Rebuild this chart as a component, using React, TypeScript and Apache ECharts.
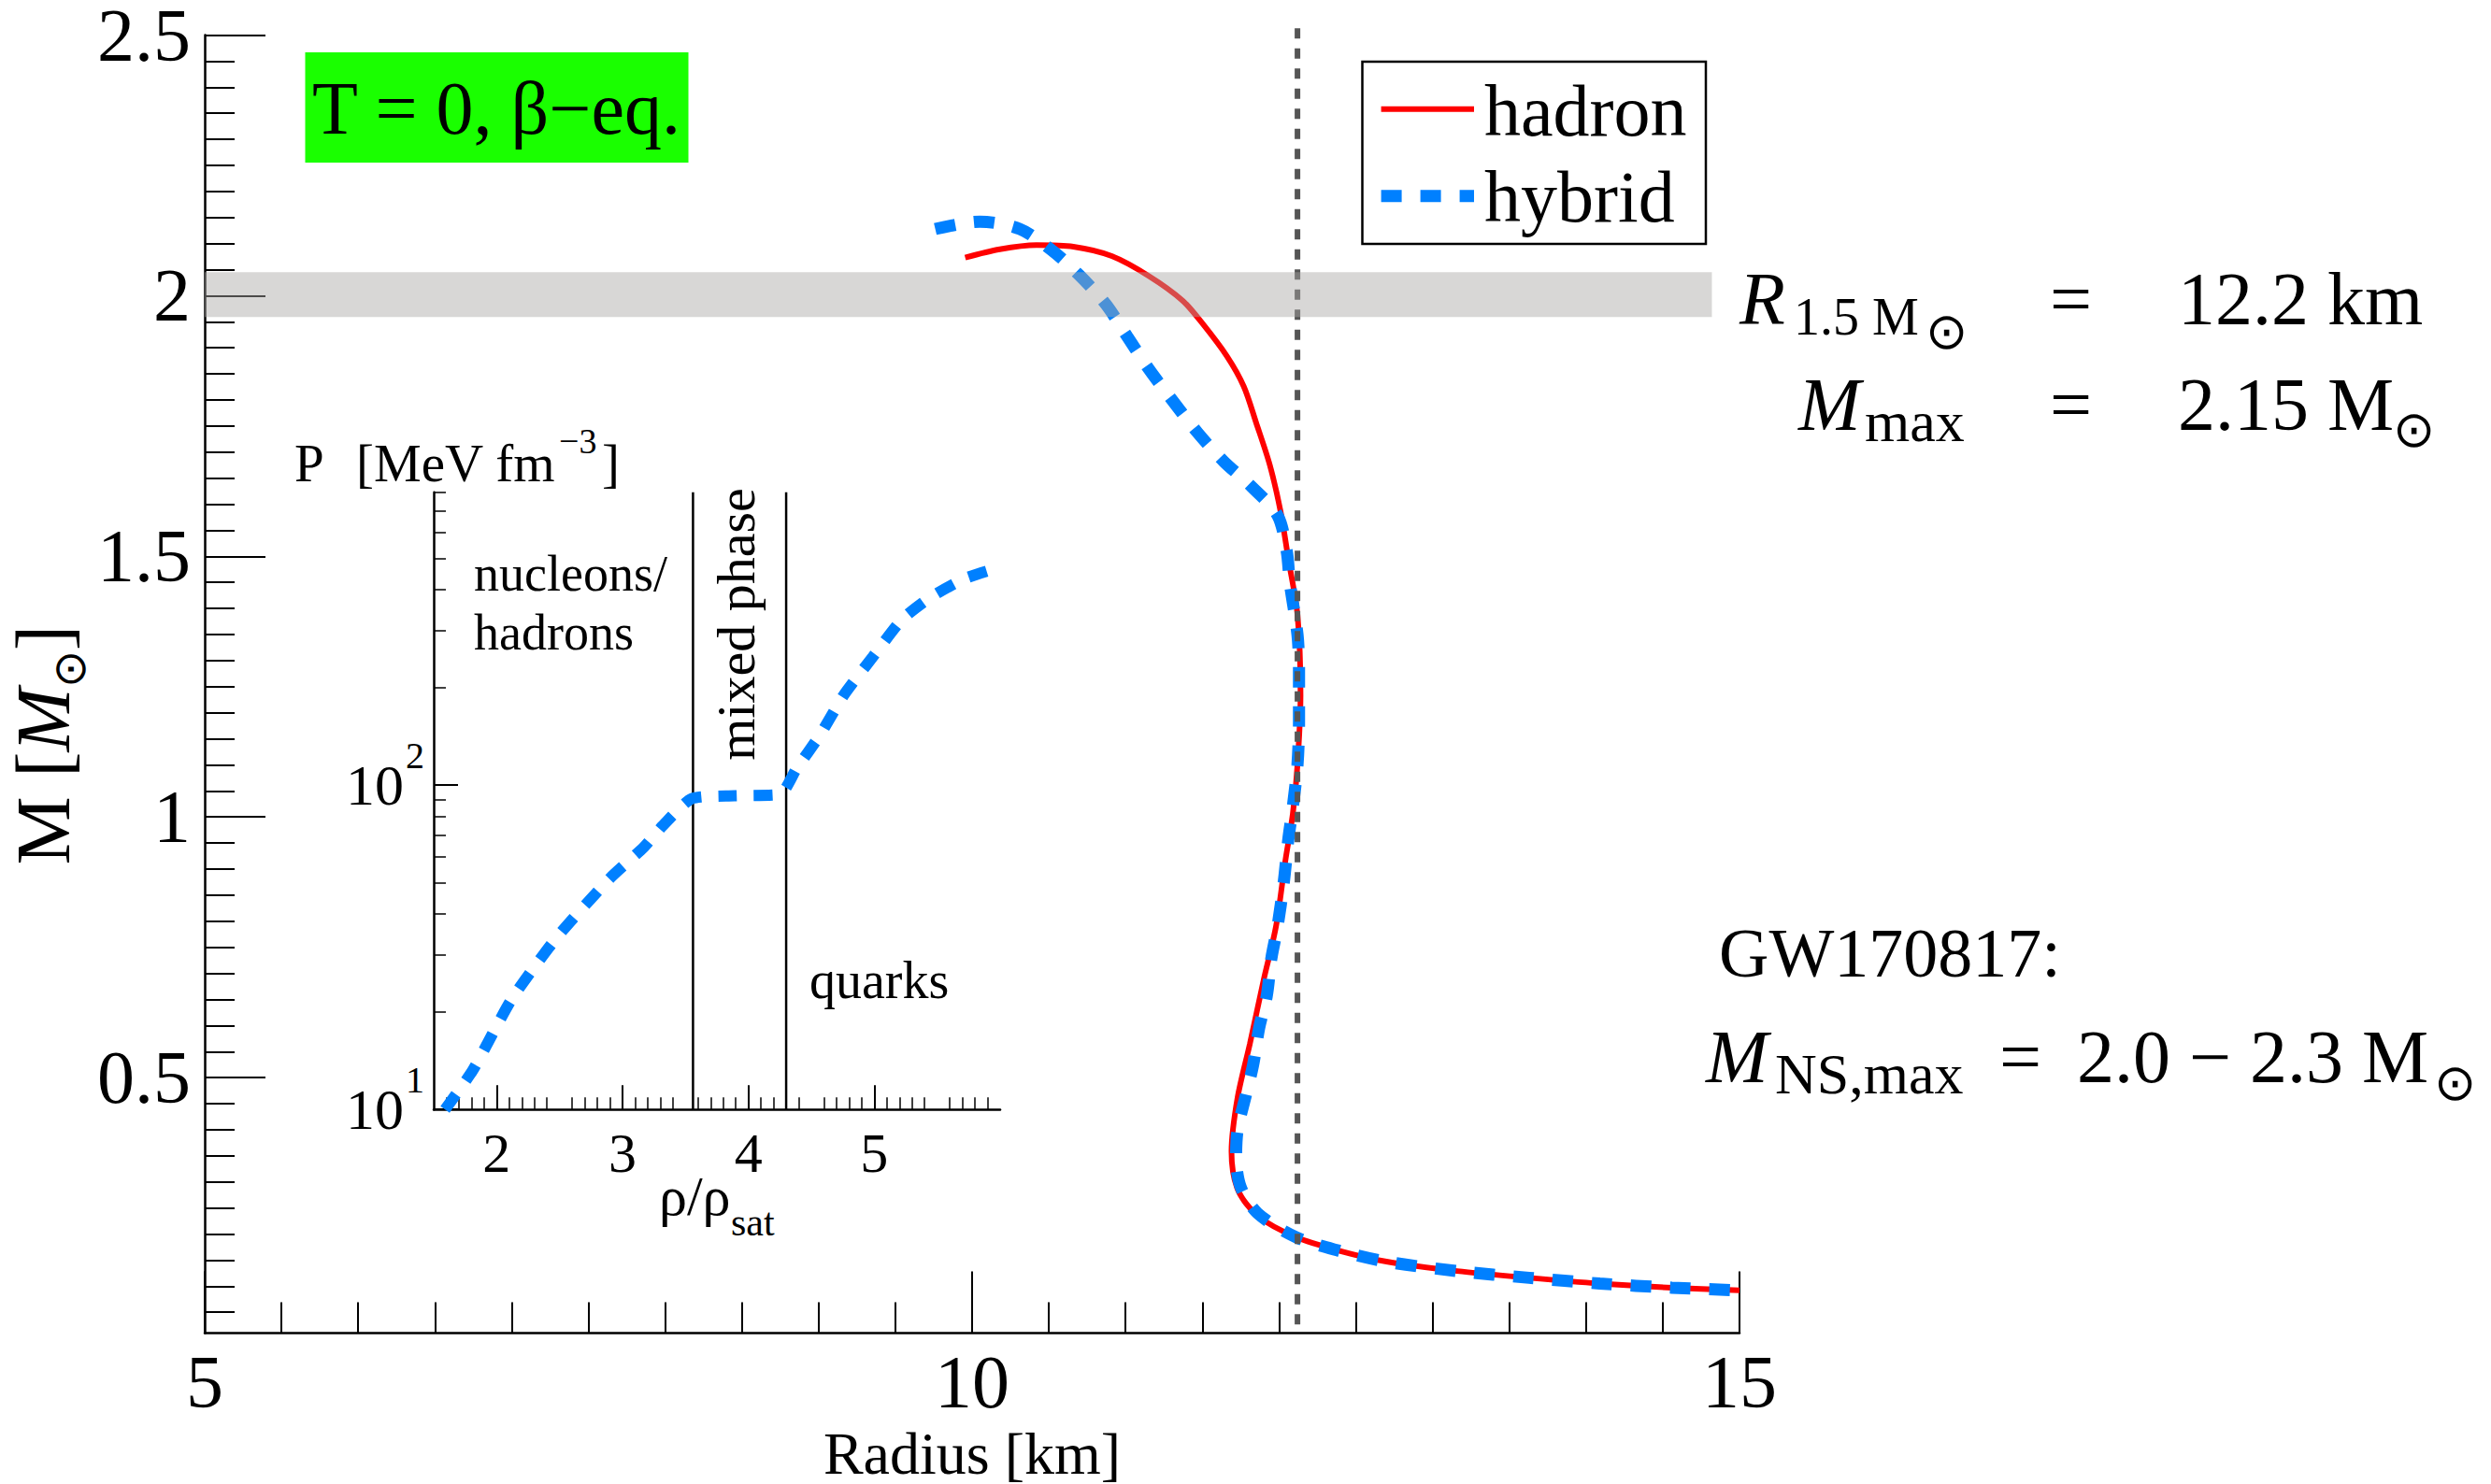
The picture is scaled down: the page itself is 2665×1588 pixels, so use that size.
import React, { useEffect, useRef } from "react";
import * as echarts from "echarts";

const FONT = "Liberation Serif";

// Mass–radius curves (R in km, M in solar masses)
const hadronR = [9.955, 10.18, 10.42, 10.66, 10.91, 11.15, 11.37, 11.5, 11.66, 11.77, 11.85, 11.94, 12.01, 12.06, 12.12, 12.14, 12.12, 12.09, 12.04, 11.98, 11.9, 11.81, 11.73, 11.69, 11.73, 11.86, 12.11, 12.39, 12.7, 13.16, 13.63, 14.09, 14.56, 15.0];
const hadronM = [2.073, 2.089, 2.097, 2.094, 2.076, 2.038, 1.991, 1.947, 1.884, 1.826, 1.757, 1.675, 1.586, 1.496, 1.388, 1.234, 1.1, 1.007, 0.914, 0.79, 0.688, 0.565, 0.462, 0.358, 0.286, 0.235, 0.194, 0.168, 0.147, 0.129, 0.116, 0.105, 0.097, 0.092];

const hybridR = [9.76, 10.05, 10.31, 10.52, 10.7, 10.87, 11.01, 11.15, 11.29, 11.47, 11.64, 11.82, 11.99, 12.05, 12.07, 12.12, 12.13, 12.13, 12.12, 12.09, 12.06, 12.03, 11.99, 11.95, 11.92, 11.87, 11.83, 11.78, 11.73, 11.72, 11.75, 11.86, 12.11, 12.39, 12.7, 13.16, 13.63, 14.09, 14.56, 15.0];
const hybridM = [2.128, 2.142, 2.128, 2.087, 2.039, 1.984, 1.922, 1.86, 1.805, 1.737, 1.682, 1.634, 1.579, 1.51, 1.45, 1.35, 1.285, 1.183, 1.1, 1.02, 0.956, 0.873, 0.79, 0.729, 0.657, 0.595, 0.523, 0.462, 0.4, 0.348, 0.29, 0.24, 0.194, 0.168, 0.147, 0.129, 0.116, 0.105, 0.097, 0.092];

// Inset: pressure vs density (hybrid EoS)
const insetRho = [1.59, 1.81, 2.12, 2.48, 2.9, 3.17, 3.32, 3.55, 3.89, 4.25, 4.38, 4.57, 4.76, 4.99, 5.22, 5.44, 5.71, 5.93];
const insetP = [10, 13.2, 21.9, 34, 51.6, 64.4, 75, 90.8, 92.7, 93.6, 112, 143, 190, 249, 324, 378, 432, 461];
const phaseBounds = [3.56, 4.3];

// Reference lines / bands
const radius15 = 12.12;
const vlineTop = 2.513;
const bandM = [1.959, 2.045];
const bandR = [5, 14.82];

// Axes ticks
const mainX = { min: 5, max: 15, step: 5 };
const mainY = { min: 0.01, max: 2.5 };
const mainYLabels = [0.5, 1, 1.5, 2, 2.5];
const mainYMinorStep = 0.05;
const insetX = { min: 1.5, max: 6 };
const insetXLabels = [2, 3, 4, 5];
const insetY = { min: 10, max: 800 };
const insetYMajor = [10, 100];
const insetYExp = ["1", "2"];
const insetYMinor = [20, 30, 40, 50, 60, 70, 80, 90, 200, 300, 400, 500, 600, 700, 800];

const RED = "#ff0000";
const BLUE = "#0080ff";

function zip(a: number[], b: number[]) {
  return a.map((v, i) => [v, b[i]]);
}

function T(x: number, base: number, text: string, fs: number, extra: any = {}) {
  return {
    type: "text",
    x,
    y: base - 0.34 * fs,
    style: {
      text,
      fontSize: fs,
      fontFamily: FONT,
      fill: "#000",
      align: "left",
      verticalAlign: "middle",
      lineHeight: fs,
      ...extra,
    },
  };
}

export default function App() {
  const ref = useRef<HTMLDivElement>(null);
  useEffect(() => {
    if (!ref.current) return;
    const chart = echarts.init(ref.current, null, { renderer: "svg" });

    const minorY: number[] = [];
    for (let k = 1; k * mainYMinorStep < mainY.max - 1e-9; k++) {
      const v = +(k * mainYMinorStep).toFixed(2);
      if (!mainYLabels.includes(v)) minorY.push(v);
    }

    const axisLineBlack = { show: true, lineStyle: { color: "#000", width: 2.5 } };
    const tickStyle = { color: "#000", width: 2 };

    const option: any = {
      animation: false,
      backgroundColor: "#fff",
      grid: [
        { left: 219, right: 804, top: 37.5, bottom: 161.5, outerBoundsMode: "none", containLabel: false },
        { left: 464, right: 1595, top: 526.7, bottom: 400.8, outerBoundsMode: "none", containLabel: false },
      ],
      xAxis: [
        {
          gridIndex: 0,
          type: "value",
          min: mainX.min,
          max: mainX.max,
          interval: mainX.step,
          axisLine: axisLineBlack,
          axisTick: { show: true, inside: true, length: 66, lineStyle: tickStyle },
          minorTick: { show: true, splitNumber: 10, length: 33, lineStyle: tickStyle },
          axisLabel: { fontSize: 80, lineHeight: 64, fontFamily: FONT, color: "#000", margin: 20 },
          splitLine: { show: false },
          minorSplitLine: { show: false },
          name: "Radius [km]",
          nameLocation: "middle",
          nameGap: 74,
          nameTextStyle: { fontSize: 64, lineHeight: 60, fontFamily: FONT, color: "#000" },
        },
        {
          gridIndex: 1,
          type: "value",
          min: insetX.min,
          max: insetX.max,
          interval: 0.5,
          axisLine: axisLineBlack,
          axisTick: { show: true, inside: true, length: 26, lineStyle: tickStyle, customValues: insetXLabels },
          minorTick: { show: true, splitNumber: 5, length: 13, lineStyle: { color: "#000", width: 1.5 } },
          axisLabel: { fontSize: 60, lineHeight: 60, fontFamily: FONT, color: "#000", margin: 17, customValues: insetXLabels },
          splitLine: { show: false },
          minorSplitLine: { show: false },
        },
      ],
      yAxis: [
        {
          gridIndex: 0,
          type: "value",
          position: "left",
          min: mainY.min,
          max: mainY.max,
          axisLine: axisLineBlack,
          axisTick: { show: true, inside: true, length: 65, lineStyle: tickStyle, customValues: mainYLabels },
          axisLabel: { fontSize: 80, lineHeight: 64, fontFamily: FONT, color: "#000", margin: 15, customValues: mainYLabels },
          splitLine: { show: false },
        },
        {
          gridIndex: 0,
          type: "value",
          position: "left",
          min: mainY.min,
          max: mainY.max,
          axisLine: { show: false },
          axisTick: { show: true, inside: true, length: 32, lineStyle: tickStyle, customValues: minorY },
          axisLabel: { show: false },
          splitLine: { show: false },
        },
        {
          gridIndex: 1,
          type: "log",
          logBase: 10,
          position: "left",
          min: insetY.min,
          max: insetY.max,
          axisLine: axisLineBlack,
          axisTick: { show: true, inside: true, length: 26, lineStyle: tickStyle, customValues: insetYMajor },
          axisLabel: {
            customValues: insetYMajor,
            margin: 10,
            formatter: (v: number) => {
              const i = insetYMajor.findIndex((t) => Math.abs(t - v) / t < 1e-6);
              return "{b|10}{s|" + (i >= 0 ? insetYExp[i] : "") + "}";
            },
            rich: {
              b: { fontSize: 62, fontFamily: FONT, color: "#000", verticalAlign: "middle" },
              s: { fontSize: 40, fontFamily: FONT, color: "#000", padding: [0, 0, 64, 2], verticalAlign: "middle" },
            },
          },
          splitLine: { show: false },
        },
        {
          gridIndex: 1,
          type: "log",
          logBase: 10,
          position: "left",
          min: insetY.min,
          max: insetY.max,
          axisLine: { show: false },
          axisTick: { show: true, inside: true, length: 13, lineStyle: { color: "#000", width: 1.5 }, customValues: insetYMinor },
          axisLabel: { show: false },
          splitLine: { show: false },
        },
      ],
      series: [
        {
          name: "hadron",
          type: "line",
          xAxisIndex: 0,
          yAxisIndex: 0,
          data: zip(hadronR, hadronM),
          showSymbol: false,
          symbol: "none",
          smooth: 0.3,
          lineStyle: { color: RED, width: 6 },
          z: 3,
        },
        {
          name: "hybrid",
          type: "line",
          xAxisIndex: 0,
          yAxisIndex: 0,
          data: zip(hybridR, hybridM),
          showSymbol: false,
          symbol: "none",
          smooth: 0.3,
          lineStyle: { color: BLUE, width: 13, type: [22, 20], cap: "butt" },
          z: 4,
        },
        {
          name: "R15",
          type: "line",
          xAxisIndex: 0,
          yAxisIndex: 0,
          data: [
            [radius15, vlineTop],
            [radius15, mainY.min],
          ],
          clip: false,
          showSymbol: false,
          symbol: "none",
          lineStyle: { color: "#555", width: 6, type: [11, 10.5] },
          z: 5,
        },
        {
          name: "band",
          type: "custom",
          xAxisIndex: 0,
          yAxisIndex: 0,
          encode: { x: [0, 1], y: [2, 3] },
          data: [[bandR[0], bandR[1], bandM[0], bandM[1]]],
          renderItem: (params: any, api: any) => {
            const p0 = api.coord([api.value(0), api.value(3)]);
            const p1 = api.coord([api.value(1), api.value(2)]);
            return {
              type: "rect",
              shape: { x: p0[0], y: p0[1], width: p1[0] - p0[0], height: p1[1] - p0[1] },
              style: { fill: "rgba(168,166,164,0.45)" },
            };
          },
          z: 6,
        },
        {
          name: "inset",
          type: "line",
          xAxisIndex: 1,
          yAxisIndex: 2,
          data: zip(insetRho, insetP),
          showSymbol: false,
          symbol: "none",
          smooth: 0.2,
          lineStyle: { color: BLUE, width: 12, type: [20, 18], cap: "butt" },
          z: 4,
        },
        ...phaseBounds.map((b) => ({
          name: "phase" + b,
          type: "line",
          xAxisIndex: 1,
          yAxisIndex: 2,
          data: [
            [b, insetY.min],
            [b, insetY.max],
          ],
          showSymbol: false,
          symbol: "none",
          lineStyle: { color: "#000", width: 2.5 },
          z: 3,
        })),
      ],
      graphic: [
        { type: "rect", shape: { x: 326.5, y: 56, width: 410, height: 118 }, style: { fill: "#1aff00" } },
        T(531, 143, "T = 0, β−eq.", 80, { align: "center" }),
        // legend
        { type: "rect", shape: { x: 1457.5, y: 66, width: 367.5, height: 195 }, style: { fill: "#fff", stroke: "#000", lineWidth: 2.5 } },
        { type: "line", shape: { x1: 1477.6, y1: 116.7, x2: 1577, y2: 116.7 }, style: { stroke: RED, lineWidth: 6 } },
        { type: "line", shape: { x1: 1477.6, y1: 209.7, x2: 1577, y2: 209.7 }, style: { stroke: BLUE, lineWidth: 13, lineDash: [22, 20] } },
        T(1588, 144.7, "hadron", 78),
        T(1588, 237, "hybrid", 78),
        // R_1.5 line
        T(1861, 347, "R", 80, { fontStyle: "italic" }),
        T(1919, 358, "1.5 M", 56),
        T(2060, 373, "⊙", 54),
        T(2193, 347, "=", 80),
        T(2330, 347, "12.2 km", 80),
        // M_max line
        T(1924, 460, "M", 80, { fontStyle: "italic" }),
        T(1995, 472, "max", 62),
        T(2193, 460, "=", 80),
        T(2330, 460, "2.15 M", 80),
        T(2560, 478, "⊙", 54),
        // GW170817
        T(1839, 1045, "GW170817:", 74),
        T(1825, 1158, "M", 80, { fontStyle: "italic" }),
        T(1899, 1170, "NS,max", 62),
        T(2139, 1158, "=", 80),
        T(2222, 1158, "2.0 − 2.3 M", 80),
        T(2604, 1177, "⊙", 54),
        // inset labels
        T(315, 515, "P", 57),
        T(381, 515, "[MeV fm", 57),
        T(598, 485, "−3", 38),
        T(644, 515, "]", 57),
        T(507, 632, "nucleons/", 54),
        T(507, 695, "hadrons", 54),
        T(866, 1068, "quarks", 56),
        T(705, 1300, "ρ/ρ", 60),
        T(782, 1322, "sat", 42),
        {
          type: "text",
          x: 787,
          y: 668,
          rotation: Math.PI / 2,
          style: { text: "mixed phase", fontSize: 58, lineHeight: 58, fontFamily: FONT, fill: "#000", align: "center", verticalAlign: "middle" },
        },
        // y-axis title
        {
          type: "text",
          x: 46,
          y: 797,
          rotation: Math.PI / 2,
          style: {
            text: "{n|M [}{i|M}{o|⊙}{n|]}",
            align: "center",
            verticalAlign: "middle",
            rich: {
              n: { fontSize: 82, fontFamily: FONT, fill: "#000", verticalAlign: "middle" },
              i: { fontSize: 82, fontFamily: FONT, fontStyle: "italic", fill: "#000", verticalAlign: "middle" },
              o: { fontSize: 48, fontFamily: FONT, fill: "#000", padding: [56, 0, 0, 0], verticalAlign: "middle" },
            },
          },
        },
      ],
    };

    chart.setOption(option);
    return () => chart.dispose();
  }, []);

  return (
    <div
      ref={ref}
      style={{ position: "fixed", left: 0, top: 0, width: 2665, height: 1588, background: "#fff" }}
    />
  );
}
